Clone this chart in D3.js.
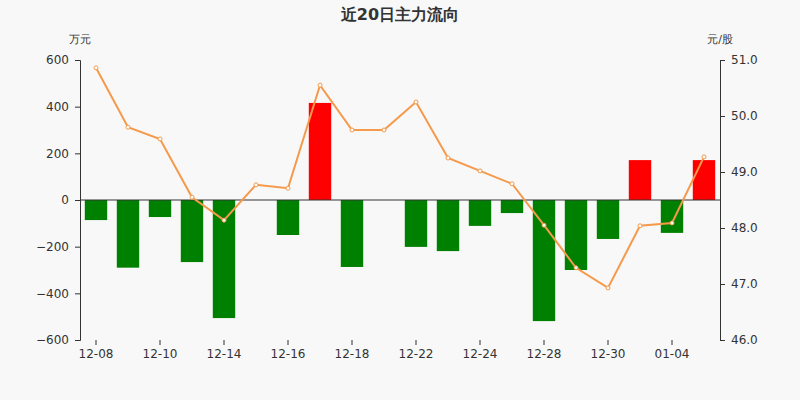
<!DOCTYPE html>
<html><head><meta charset="utf-8">
<script src="https://cdn.jsdelivr.net/npm/d3@7"></script>
<style>body{margin:0;background:#f8f8f8;font-family:"DejaVu Sans",sans-serif}</style>
</head><body><svg id="c" width="800" height="400"></svg>
<script>
var dates = ["12-08","12-09","12-10","12-11","12-14","12-15","12-16","12-17","12-18","12-21",
             "12-22","12-23","12-24","12-25","12-28","12-29","12-30","12-31","01-04","01-05"];
var flows = [-86,-290,-73,-266,-506,0,-150,416,-287,0,-201,-219,-111,-56,-519,-300,-167,171,-141,171];
var prices = [50.86,49.80,49.59,48.55,48.14,48.77,48.71,50.55,49.75,49.75,50.25,49.25,49.02,48.79,48.05,47.29,46.93,48.04,48.09,49.27];
var leftTicks = [-600,-400,-200,0,200,400,600];
var rightTicks = [46,47,48,49,50,51];
var shownDates = ["12-08","12-10","12-14","12-16","12-18","12-22","12-24","12-28","12-30","01-04"];

var svg = d3.select("#c");
svg.append("rect").attr("width",800).attr("height",400).attr("fill","#f8f8f8");
var padL = 80, padR = 720, padT = 60, padB = 340;

var x = d3.scaleBand().domain(dates).range([padL, padR]).paddingInner(0.3).paddingOuter(0.15);
var y = d3.scaleLinear().domain([-600, 600]).range([padB, padT]);
var y2 = d3.scaleLinear().domain([46, 51]).range([padB, padT]);

svg.append("text").attr("x",400).attr("y",20).attr("text-anchor","middle")
  .attr("font-size",16).attr("font-weight","bold").attr("fill","#333").text("近20日主力流向");
svg.append("text").attr("x",80).attr("y",43).attr("text-anchor","middle").attr("font-size",11).attr("fill","#333").text("万元");
svg.append("text").attr("x",720).attr("y",43).attr("text-anchor","middle").attr("font-size",11).attr("fill","#333").text("元/股");

var la = svg.append("g").attr("transform","translate("+padL+",0)")
  .call(d3.axisLeft(y).tickValues(leftTicks).tickSize(5).tickPadding(6));
var ra = svg.append("g").attr("transform","translate("+padR+",0)")
  .call(d3.axisRight(y2).tickValues(rightTicks).tickSize(5).tickPadding(6));
var xa = svg.append("g").attr("transform","translate(0,"+padB+")")
  .call(d3.axisBottom(x).tickValues(shownDates).tickSize(5).tickPadding(4));
[la,ra,xa].forEach(function(a){
  a.selectAll("path,line").attr("stroke","#333");
  a.selectAll("text").attr("font-size",12).attr("fill","#333").attr("font-family","DejaVu Sans");
});
xa.select(".domain").remove();

svg.selectAll(".bar").data(flows).enter().append("rect")
  .attr("x",(d,i)=>x(dates[i])).attr("width",x.bandwidth())
  .attr("y",d=>y(Math.max(0,d))).attr("height",d=>Math.abs(y(d)-y(0)))
  .attr("fill",d=>d>=0?"#ff0000":"#008000");

svg.append("line").attr("x1",padL).attr("x2",padR).attr("y1",y(0)).attr("y2",y(0)).attr("stroke","#333");

var cx = (d,i)=>x(dates[i])+x.bandwidth()/2;
svg.append("path").datum(prices)
  .attr("d",d3.line().x(cx).y(d=>y2(d)))
  .attr("fill","none").attr("stroke","#f5994a").attr("stroke-width",2);
svg.selectAll(".pt").data(prices).enter().append("circle")
  .attr("cx",cx).attr("cy",d=>y2(d)).attr("r",2)
  .attr("fill","#fff").attr("stroke","#f5994a");
</script></body></html>
